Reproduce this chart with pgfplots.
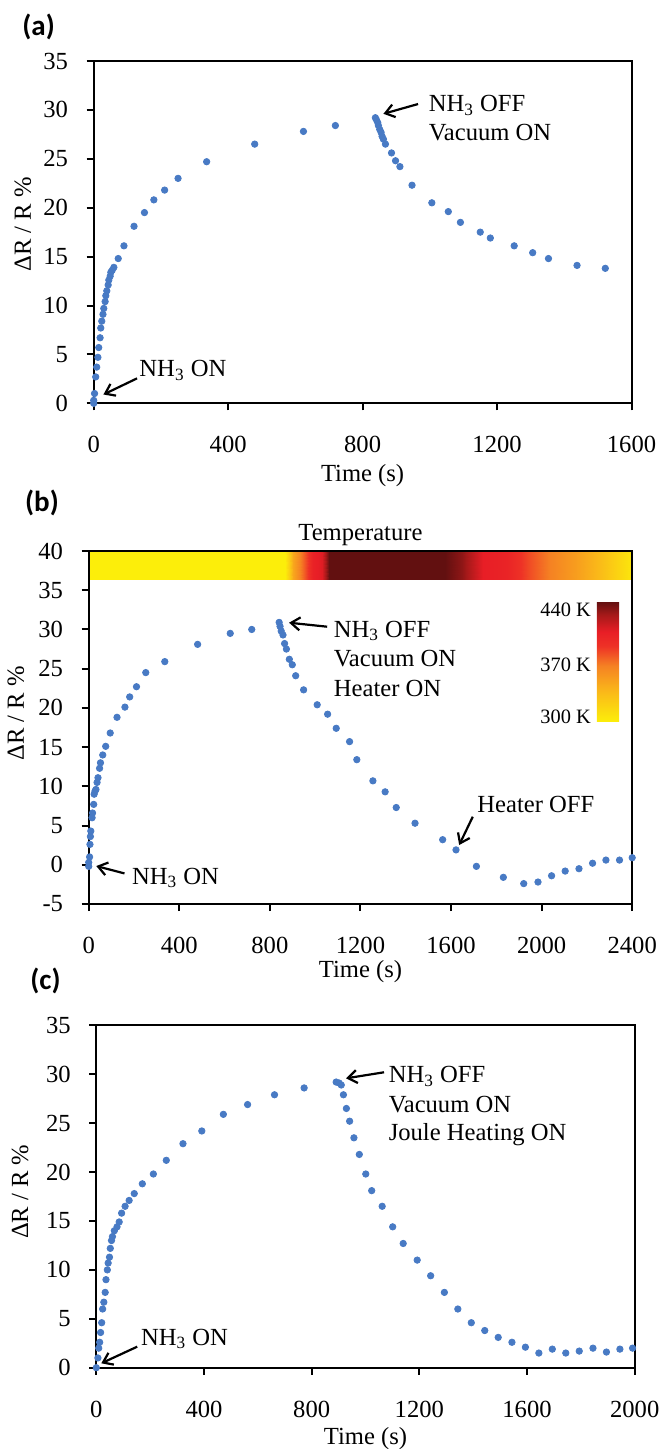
\documentclass[border=0pt]{standalone}
\usepackage{fontspec}
\setmainfont{Liberation Serif}
\newfontfamily\panelfont{Carlito}
\usepackage{pgfplots}
\pgfplotsset{compat=1.18}
\usetikzlibrary{arrows.meta}

\definecolor{dotblue}{RGB}{72,122,196}
\newcommand\txt{\fontsize{12.3}{14}\selectfont}

\pgfplotsset{
  panel/.style={
    scale only axis,
    axis line style={line width=1pt},
    tick style={line width=1pt, black},
    major tick length=3.5pt,
    tick align=outside,
    xtick pos=left, ytick pos=left,
    tick label style={font=\txt},
    xticklabel style={yshift=-9.5pt},
    yticklabel style={xshift=-5.8pt},
    label style={font=\txt},
    /pgf/number format/assume math mode=true,
    /pgf/number format/1000 sep={},
    xlabel={Time (s)},
    ylabel={ΔR / R \%},
  },
  dots/.style={only marks, mark=*, mark size=1.6pt, color=dotblue},
}
\tikzset{
  note/.style={anchor=base west, inner sep=0pt, font=\txt},
  arr/.style={line width=1.1pt, -{Straight Barb[length=4.5pt,width=6.5pt]}},
  plab/.style={font=\panelfont\bfseries\fontsize{14.5}{16}\selectfont},
}

\begin{document}
\begin{tikzpicture}
\path[use as bounding box] (0,0) rectangle (331pt,-724.5pt);

% ---------- (a) ----------
\node[plab] at (19.3pt,-13.4pt) {(a)};
\begin{axis}[panel,
  at={(46.85pt,-201.65pt)}, anchor=south west,
  width=268.9pt, height=171.15pt,
  xmin=0, xmax=1600, ymin=0, ymax=35,
  xtick={0,400,...,1600}, ytick={0,5,...,35},
  xlabel style={at={(axis description cs:0.5,0)}, anchor=base, yshift=-38.85pt},
  ylabel style={at={(axis description cs:-0.1315,0.523)}, anchor=center},
]
\addplot[dots] table {
0 0
0 0.3
2.5 1.0
6 2.7
9 3.7
12.5 4.7
15 5.7
19 6.7
21 7.7
24 8.4
27.6 9.1
30 9.7
34 10.4
36 11.0
39 11.5
43 12.1
45 12.6
49 13.0
51 13.4
55 13.6
60 13.9
73 14.8
90 16.1
120 18.1
151 19.5
179 20.8
211 21.8
251 23.0
336 24.7
479 26.5
624 27.8
719 28.4
838 29.2
841 29.0
845 28.7
847 28.4
851 28.0
855 27.7
858 27.3
862 27.0
868 26.5
886 25.6
898 24.8
911 24.2
947 22.3
1006 20.5
1055 19.6
1091 18.5
1150 17.5
1180 16.9
1251 16.1
1306 15.4
1353 14.8
1438 14.1
1522 13.8
};
\node[note] at (axis cs:996,29.8) {NH\textsubscript{3} OFF};
\node[note] at (axis cs:996,26.9) {Vacuum ON};
\draw[arr] (axis cs:965,30.6) -- (axis cs:862,29.6);
\node[note] at (axis cs:135,2.72) {NH\textsubscript{3} ON};
\draw[arr] (axis cs:129,2.55) -- (axis cs:29,0.9);
\end{axis}

% ---------- (b) ----------
\node[plab] at (21pt,-251.25pt) {(b)};
\begin{axis}[panel,
  at={(44.35pt,-452pt)}, anchor=south west,
  width=271.75pt, height=176.5pt,
  xmin=0, xmax=2400, ymin=-5, ymax=40,
  xtick={0,400,...,2400}, ytick={-5,0,...,40},
  axis on top,
  title={Temperature},
  title style={at={(axis description cs:0.5,1)}, anchor=base, yshift=-0.85pt, font=\txt},
  xlabel style={at={(axis description cs:0.5,0)}, anchor=base, yshift=-36.95pt},
  ylabel style={at={(axis description cs:-0.1338,0.54)}, anchor=center},
  colormap={temp}{rgb255(300)=(252,238,10) rgb255(335)=(250,185,25)
    rgb255(365)=(245,130,35) rgb255(388)=(238,50,38) rgb255(405)=(232,30,38)
    rgb255(425)=(165,25,25) rgb255(440)=(98,16,16)},
  point meta min=300, point meta max=440,
  colorbar,
  colorbar style={
    at={(parent axis.south east)}, anchor=south east,
    xshift=-15.04pt, yshift=91.15pt,
    scale only axis, width=11.1pt, height=60pt,
    axis line style={draw=none}, major tick length=0pt,
    ytick={306,366,430}, yticklabels={300 K,370 K,440 K},
    yticklabel pos=left,
    yticklabel style={font=\fontsize{10.2}{12}\selectfont, inner sep=0pt, xshift=-2.85pt},
  },
]
\addplot[surf, shader=interp, point meta=explicit, mesh/rows=2] coordinates {
(0,36.4) [300] (867,36.4) [300] (885,36.4) [320] (903,36.4) [345]
(950,36.4) [375] (992,36.4) [402] (1029,36.4) [408] (1060,36.4) [440]
(1573,36.4) [440] (1650,36.4) [430] (1741,36.4) [405] (1846,36.4) [400]
(1950,36.4) [380] (2036,36.4) [365] (2150,36.4) [350] (2250,36.4) [335]
(2332,36.4) [318] (2400,36.4) [305]

(0,40) [300] (867,40) [300] (885,40) [320] (903,40) [345]
(950,40) [375] (992,40) [402] (1029,40) [408] (1060,40) [440]
(1573,40) [440] (1650,40) [430] (1741,40) [405] (1846,40) [400]
(1950,40) [380] (2036,40) [365] (2150,40) [350] (2250,40) [335]
(2332,40) [318] (2400,40) [305]
};
\addplot[dots] table {
0 -0.2
0 0.3
4 1.0
5.6 2.6
7.5 3.6
9.3 4.3
15 6.0
17 6.6
22 7.7
24 9.0
28 9.4
32 9.6
37 10.5
41 11.1
48 12.3
52 13.0
62 14.0
75 15.1
95 16.8
125 18.8
160 20.1
181 21.4
211 22.7
252 24.5
336 25.9
481 28.1
625 29.5
720 30.0
841 30.9
845 30.4
850 29.8
858 29.3
865 28.2
873 27.5
886 26.2
899 25.5
914 24.1
949 22.3
1009 20.4
1055 19.2
1093 17.4
1152 15.7
1184 13.4
1255 10.7
1309 9.3
1358 7.3
1441 5.3
1563 3.2
1622 1.9
1712 -0.2
1831 -1.6
1921 -2.4
1984 -2.2
2044 -1.4
2104 -0.8
2165 -0.5
2225 0.2
2284 0.6
2344 0.6
2400 0.9
};
\node[note] at (axis cs:1081,29.0) {NH\textsubscript{3} OFF};
\node[note] at (axis cs:1081,25.25) {Vacuum ON};
\node[note] at (axis cs:1081,21.43) {Heater ON};
\draw[arr] (axis cs:1053,30.35) -- (axis cs:885,30.86);
\node[note] at (axis cs:190,-2.49) {NH\textsubscript{3} ON};
\draw[arr] (axis cs:158,-1.1) -- (axis cs:33.5,-0.16);
\node[note] at (axis cs:1715,6.69) {Heater OFF};
\draw[arr] (axis cs:1696,6.13) -- (axis cs:1636,2.52);
\end{axis}

% ---------- (c) ----------
\node[plab] at (22.75pt,-490.5pt) {(c)};
\begin{axis}[panel,
  at={(48.15pt,-683.85pt)}, anchor=south west,
  width=269.2pt, height=171.2pt,
  xmin=0, xmax=2000, ymin=0, ymax=35,
  xtick={0,400,...,2000}, ytick={0,5,...,35},
  xlabel style={at={(axis description cs:0.5,0)}, anchor=base, yshift=-38.4pt},
  ylabel style={at={(axis description cs:-0.1417,0.514)}, anchor=center},
]
\addplot[dots] table {
0 0
6 1.0
9 2.0
12.5 2.6
16 3.6
20 4.6
23.5 6.0
28 6.7
33 7.7
36 9.0
41 10.0
44 10.7
49 11.3
52 12.2
56.5 13.0
60 13.4
67 14.0
77 14.4
85 14.9
94 15.8
107 16.5
122 17.1
141 17.8
171 18.8
212 19.8
260 21.2
322 22.9
392 24.2
472 25.9
562 26.9
662 27.9
772 28.6
891 29.2
902 29.1
910 28.9
918 27.9
929 26.5
941 25.2
957 23.5
977 21.8
1001 19.8
1023 18.1
1062 16.5
1101 14.4
1140 12.7
1192 11.0
1242 9.4
1293 7.7
1343 6.0
1393 4.6
1443 3.8
1493 3.1
1544 2.6
1594 2.1
1644 1.5
1694 1.9
1744 1.5
1794 1.7
1845 2.0
1895 1.6
1945 1.9
1992 2.0
};
\node[note] at (axis cs:1085,29.13) {NH\textsubscript{3} OFF};
\node[note] at (axis cs:1085,26.1) {Vacuum ON};
\node[note] at (axis cs:1085,23.2) {Joule Heating ON};
\draw[arr] (axis cs:1069,30.2) -- (axis cs:928,29.58);
\node[note] at (axis cs:164.6,2.32) {NH\textsubscript{3} ON};
\draw[arr] (axis cs:152,2.15) -- (axis cs:18.6,0.45);
\end{axis}
\end{tikzpicture}
\end{document}
